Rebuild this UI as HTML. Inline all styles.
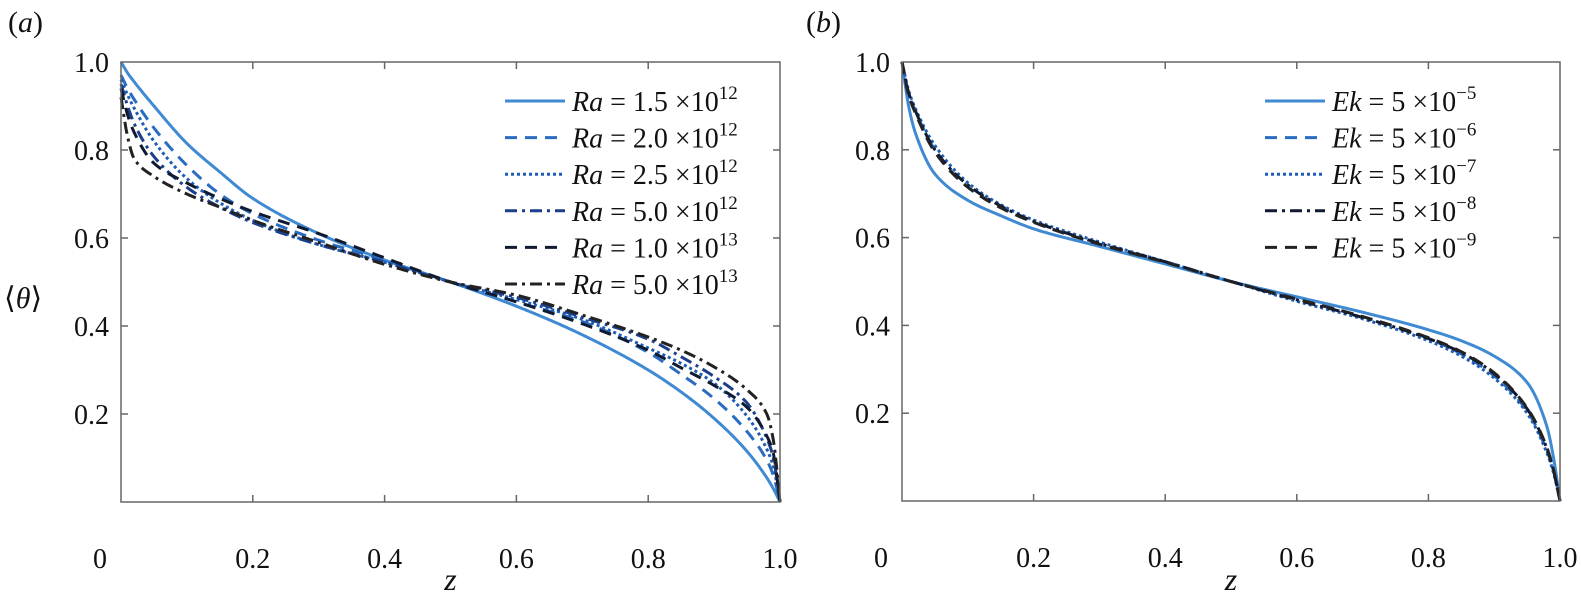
<!DOCTYPE html>
<html><head><meta charset="utf-8"><style>
body{margin:0;background:#fff}
svg{display:block}
svg text{font-family:"Liberation Serif","DejaVu Serif",serif}
</style></head><body>
<svg id="fig" width="1581" height="601" viewBox="0 0 1581 601">
</svg>
<script>
const zGrid=[0,0.01,0.02,0.05,0.1,0.15,0.2,0.3,0.4,0.5,0.6,0.7,0.8,0.85,0.9,0.95,0.98,0.99,1.0];
const xTicks=[0,0.2,0.4,0.6,0.8,1.0];
const xTickLabels=['0','0.2','0.4','0.6','0.8','1.0'];
const yTicks=[0.2,0.4,0.6,0.8,1.0];
const yTickLabels=['0.2','0.4','0.6','0.8','1.0'];
const raLabels=['1.5','2.0','2.5','5.0','1.0','5.0'];
const raExps=['12','12','12','12','13','13'];
const ra15=[1.0,0.975,0.955,0.90,0.815,0.75,0.69,0.61,0.55,0.5,0.445,0.38,0.30,0.25,0.19,0.115,0.055,0.03,0.0];
const ra20=[0.97,0.94,0.915,0.85,0.765,0.70,0.655,0.595,0.55,0.5,0.455,0.41,0.34,0.29,0.235,0.16,0.095,0.06,0.0];
const ra25=[0.96,0.925,0.895,0.82,0.735,0.68,0.64,0.585,0.545,0.5,0.46,0.415,0.35,0.315,0.27,0.195,0.12,0.08,0.0];
const ra50=[0.95,0.9,0.86,0.785,0.715,0.67,0.635,0.585,0.545,0.5,0.465,0.42,0.37,0.33,0.285,0.225,0.145,0.10,0.0];
const ra100=[0.94,0.88,0.84,0.77,0.725,0.69,0.66,0.61,0.555,0.5,0.455,0.405,0.345,0.305,0.265,0.215,0.15,0.11,0.0];
const ra500=[0.92,0.83,0.78,0.74,0.70,0.67,0.64,0.59,0.54,0.5,0.47,0.425,0.375,0.345,0.307,0.255,0.20,0.14,0.0];
const ekExps=['−5','−6','−7','−8','−9'];
const ek5=[1.0,0.90,0.84,0.745,0.685,0.65,0.62,0.58,0.54,0.5,0.465,0.43,0.39,0.365,0.33,0.27,0.17,0.10,0.0];
const ek6=[1.0,0.93,0.89,0.80,0.715,0.67,0.635,0.585,0.545,0.5,0.46,0.42,0.37,0.335,0.285,0.205,0.115,0.07,0.0];
const ek7=[1.0,0.935,0.895,0.81,0.725,0.675,0.64,0.59,0.545,0.5,0.455,0.415,0.365,0.33,0.28,0.2,0.11,0.065,0.0];
const ek8=[1.0,0.93,0.89,0.80,0.72,0.672,0.637,0.587,0.545,0.5,0.458,0.418,0.37,0.338,0.29,0.21,0.12,0.07,0.0];
const ek9=[1.0,0.925,0.885,0.795,0.715,0.668,0.635,0.585,0.544,0.5,0.46,0.42,0.372,0.34,0.292,0.212,0.122,0.072,0.0];

const NS='http://www.w3.org/2000/svg';
const svg=document.getElementById('fig');
function mk(tag,attrs,parent){const e=document.createElementNS(NS,tag);for(const k in attrs)e.setAttribute(k,attrs[k]);(parent||svg).appendChild(e);return e;}
const styles=[
 {c:'#3f8ad2',d:'',w:3},
 {c:'#2a6cc0',d:'12 8',w:3},
 {c:'#1f5db4',d:'3 3',w:3},
 {c:'#1b3f8c',d:'12 5 3 5',w:3},
 {c:'#101a30',d:'12 8',w:3},
 {c:'#222222',d:'12 5 3 5',w:3}];
const ekStyles=[styles[0],styles[1],styles[2],{c:'#101a30',d:'12 5 3 5',w:3},{c:'#222222',d:'12 8',w:3}];

function monotone(xs,ys){
  const n=xs.length,d=[],m=new Array(n);
  for(let i=0;i<n-1;i++)d.push((ys[i+1]-ys[i])/(xs[i+1]-xs[i]));
  m[0]=d[0];m[n-1]=d[n-2];
  for(let i=1;i<n-1;i++){
    if(d[i-1]*d[i]<=0)m[i]=0;
    else{const h0=xs[i]-xs[i-1],h1=xs[i+1]-xs[i];const w1=2*h1+h0,w2=h1+2*h0;m[i]=(w1+w2)/(w1/d[i-1]+w2/d[i]);}
  }
  return function(x){
    let i=0;while(i<n-2&&x>xs[i+1])i++;
    const h=xs[i+1]-xs[i],t=(x-xs[i])/h,t2=t*t,t3=t2*t;
    return (2*t3-3*t2+1)*ys[i]+(t3-2*t2+t)*h*m[i]+(-2*t3+3*t2)*ys[i+1]+(t3-t2)*h*m[i+1];
  };
}

function panel(px,name,L,R,T,B,series,sty,legend,letter){
  const g=mk('g',{});
  
  
  const sx=v=>L+(R-L)*v, sy=v=>B-(B-T)*v;
  xTicks.forEach((t,i)=>{
    if(i>0&&i<xTicks.length-1){
      const a=mk('line',{x1:sx(t),x2:sx(t),y1:B,y2:B-7,stroke:'#666','stroke-width':1.5},g);
      
      const b=mk('line',{x1:sx(t),x2:sx(t),y1:T,y2:T+7,stroke:'#666','stroke-width':1.5},g);
      
    }
    const lx=i===0?L-21:sx(t);
    const tx=mk('text',{x:lx,y:B+66,'font-size':28,'text-anchor':'middle',fill:'#111'},g);
    tx.textContent=xTickLabels[i];
    
  });
  yTicks.forEach((t,i)=>{
    if(t<1){
      const a=mk('line',{x1:L,x2:L+7,y1:sy(t),y2:sy(t),stroke:'#666','stroke-width':1.5},g);
      
      const b=mk('line',{x1:R,x2:R-7,y1:sy(t),y2:sy(t),stroke:'#666','stroke-width':1.5},g);
      
    }
    const tx=mk('text',{x:L-12,y:sy(t)+10,'font-size':28,'text-anchor':'end',fill:'#111'},g);
    tx.textContent=yTickLabels[i];
    
  });
  series.forEach((vals,si)=>{
    const f=monotone(zGrid,vals);
    const N=400;let d='';
    for(let k=0;k<=N;k++){const z=k/N;d+=(k?' L':'M')+sx(z).toFixed(2)+','+sy(f(z)).toFixed(2);}
    const s=sty[si];
    const p=mk('path',{d:d,fill:'none',stroke:s.c,'stroke-width':s.w,'stroke-dasharray':s.d,'stroke-linejoin':'round'},g);
    
    
  });
  const fr=mk('rect',{x:L,y:T,width:R-L,height:B-T,fill:'none',stroke:'#666','stroke-width':1.5},g);
  
  const lg=mk('g',{},g);
  
  legend.labels.forEach((lab,i)=>{
    const y=legend.y0+i*36.6;
    const s=sty[i];
    const ln=mk('line',{x1:legend.x0,x2:legend.x0+60,y1:y,y2:y,stroke:s.c,'stroke-width':s.w,'stroke-dasharray':s.d},lg);
    
    const t=mk('text',{x:legend.x0+67,y:y+10,'font-size':28,fill:'#111'},lg);
    
    const v=mk('tspan',{'font-style':'italic'},t);v.textContent=legend.sym;
    const m=mk('tspan',{},t);m.textContent=' = '+lab+' ×10';
    const e=mk('tspan',{'font-size':19,dy:-12},t);e.textContent=legend.exps[i];
  });
  const lt=mk('text',{x:letter.x,y:32,'font-size':30,fill:'#111'},g);
  
  const a1=mk('tspan',{},lt);a1.textContent='(';
  const a2=mk('tspan',{'font-style':'italic'},lt);a2.textContent=letter.t;
  const a3=mk('tspan',{},lt);a3.textContent=')';
  const zl=mk('text',{x:(L+R)/2,y:590,'font-size':32,'font-style':'italic','text-anchor':'middle',fill:'#111'},g);
  zl.textContent='z';
  
}
panel(0,'panel-a',121,780,62,502,[ra15,ra20,ra25,ra50,ra100,ra500],styles,
  {x0:505,y0:101,sym:'Ra',labels:raLabels,exps:raExps},{x:8,t:'a'});
panel(0,'panel-b',902,1560,62,501,[ek5,ek6,ek7,ek8,ek9],ekStyles,
  {x0:1265,y0:101,sym:'Ek',labels:['5','5','5','5','5'],exps:ekExps},{x:806,t:'b'});
const yl=mk('text',{x:4,y:308,'font-size':30,fill:'#111'});


const y1=mk('tspan',{},yl);y1.textContent='⟨';
const y2=mk('tspan',{'font-style':'italic'},yl);y2.textContent='θ';
const y3=mk('tspan',{},yl);y3.textContent='⟩';
</script>
</body></html>
